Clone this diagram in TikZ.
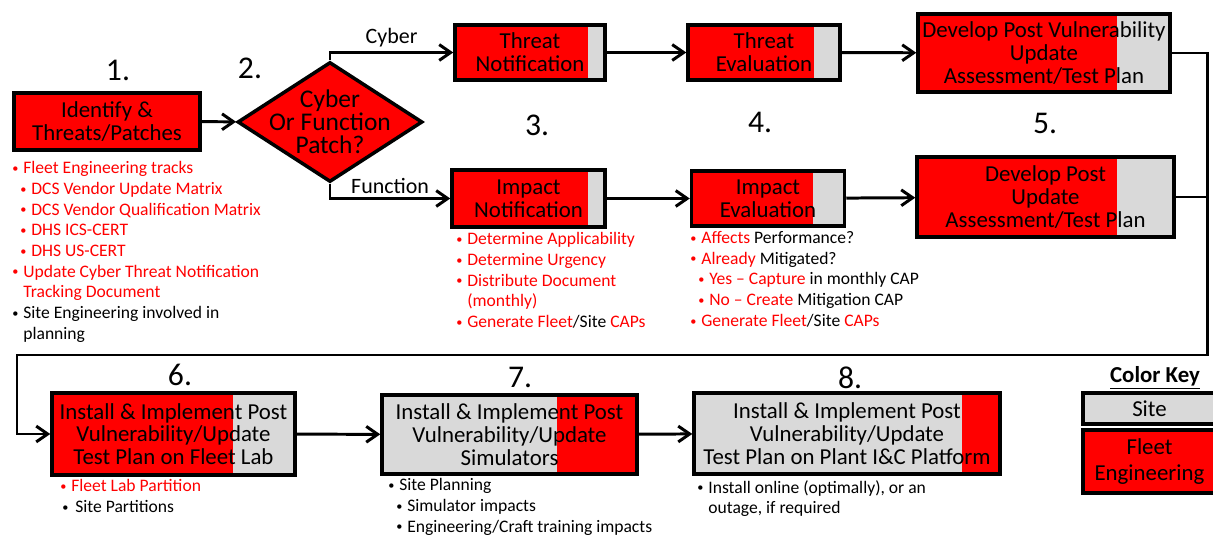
\documentclass[tikz,border=0pt]{standalone}
\usepackage{fontspec}
\usepackage{graphicx}
\setmainfont{Carlito}
\usetikzlibrary{arrows.meta,shapes.geometric}
\definecolor{fleetred}{HTML}{FF0000}
\definecolor{sitegrey}{HTML}{D9D9D9}
\newcommand{\rd}[1]{\textcolor{fleetred}{#1}}
\newcommand{\bl}{\makebox[0.22cm][l]{\raisebox{0.15ex}{\scalebox{0.7}{•}}}}
\tikzset{
  stepbox/.style={draw=black, line width=2pt, align=center, inner sep=0pt, font=\fontsize{13}{13}\selectfont},
  fleetbox/.style={stepbox, fill=fleetred},
  sitebox/.style={stepbox, fill=sitegrey},
  greyend/.style={stepbox, preaction={fill=fleetred, path picture={\fill[sitegrey] ([xshift=-#1]path picture bounding box.north east) rectangle (path picture bounding box.south east);}}},
  redend/.style={stepbox, preaction={fill=sitegrey, path picture={\fill[fleetred] ([xshift=-#1]path picture bounding box.north east) rectangle (path picture bounding box.south east);}}},
  stepnum/.style={font=\fontsize{18}{18}\selectfont},
  notes/.style={anchor=north west, align=left, inner sep=0pt, font=\fontsize{10}{11.8}\selectfont},
  lbl/.style={font=\fontsize{12.5}{12.5}\selectfont, inner sep=2pt},
  flow/.style={line width=1.7pt, -{Straight Barb[length=6.5pt,width=9pt]}},
  link/.style={line width=1.7pt}
}
\begin{document}
\begin{tikzpicture}[x=0.02cm, y=-0.02cm]
\useasboundingbox (0,0) rectangle (1213,536);

\node[fleetbox, minimum width=3.72cm, minimum height=1.14cm] (id) at (107,121.5) {Identify \&\\Threats/Patches};
\node[draw, line width=2pt, fill=fleetred, shape=diamond, minimum width=3.7cm, minimum height=2.4cm, inner sep=-0.5cm, align=center, font=\fontsize{14.5}{13.2}\selectfont] (dec) at (330,122) {Cyber\\Or Function\\Patch?};

\node[greyend=0.34cm, minimum width=3cm, minimum height=1.1cm] (tn) at (530,52.5) {Threat\\Notification};
\node[greyend=0.52cm, minimum width=3.04cm, minimum height=1.1cm] (te) at (764,52.5) {Threat\\Evaluation};
\node[greyend=1.06cm, minimum width=5.04cm, minimum height=1.56cm] (dv) at (1044,53) {Develop Post Vulnerability\\Update\\Assessment/Test Plan};
\node[greyend=0.34cm, minimum width=3.06cm, minimum height=1.14cm] (in) at (528.5,198.5) {Impact\\Notification};
\node[greyend=0.64cm, minimum width=3.06cm, minimum height=1.1cm] (ie) at (768,198.5) {Impact\\Evaluation};
\node[greyend=1.14cm, minimum width=5.14cm, minimum height=1.6cm] (du) at (1045.5,197) {Develop Post\\Update\\Assessment/Test Plan};

\node[greyend=1.24cm, minimum width=4.86cm, minimum height=1.64cm] (b6) at (173.5,434) {Install \& Implement Post\\Vulnerability/Update\\Test Plan on Fleet Lab};
\node[redend=1.6cm, minimum width=5.1cm, minimum height=1.58cm] (b7) at (509.5,434.5) {Install \& Implement Post\\Vulnerability/Update\\Simulators};
\node[redend=0.76cm, minimum width=6.12cm, minimum height=1.62cm] (b8) at (847,433.5) {Install \& Implement Post\\Vulnerability/Update\\Test Plan on Plant I\&C Platform};

\node[stepnum] (s1) at (118,70) {1.};
\node[stepnum] (s2) at (250,68) {2.};
\node[stepnum] (s3) at (537,125) {3.};
\node[stepnum] (s4) at (760,122) {4.};
\node[stepnum] (s5) at (1045,123) {5.};
\node[stepnum] (s6) at (180,375) {6.};
\node[stepnum] (s7) at (520,377) {7.};
\node[stepnum] (s8) at (850,378) {8.};

\node[notes] (l1) at (12,161) {\rd{\bl Fleet Engineering tracks}\\
\hspace*{0.16cm}\rd{\bl DCS Vendor Update Matrix}\\
\hspace*{0.16cm}\rd{\bl DCS Vendor Qualification Matrix}\\
\hspace*{0.16cm}\rd{\bl DHS ICS-CERT}\\
\hspace*{0.16cm}\rd{\bl DHS US-CERT}\\
\rd{\bl Update Cyber Threat Notification}\\
\hspace*{0.22cm}\rd{Tracking Document}\\
\bl Site Engineering involved in\\
\hspace*{0.22cm}planning};
\node[notes] (l3) at (456,232) {\rd{\bl Determine Applicability}\\
\rd{\bl Determine Urgency}\\
\rd{\bl Distribute Document}\\
\hspace*{0.22cm}\rd{(monthly)}\\
\rd{\bl Generate Fleet}/Site \rd{CAPs}};
\node[notes] (l4) at (690,231) {\rd{\bl Affects} Performance?\\
\rd{\bl Already} Mitigated?\\
\hspace*{0.16cm}\rd{\bl Yes -- Capture} in monthly CAP\\
\hspace*{0.16cm}\rd{\bl No -- Create} Mitigation CAP\\
\rd{\bl Generate Fleet}/Site \rd{CAPs}};
\node[notes] (l6) at (60,479) {\rd{\bl Fleet Lab Partition}\\
\makebox[0.3cm][l]{\hspace*{0.04cm}\raisebox{0.15ex}{\scalebox{0.7}{•}}}Site Partitions};
\node[notes] (l7) at (388,478) {\bl Site Planning\\
\hspace*{0.16cm}\bl Simulator impacts\\
\hspace*{0.16cm}\bl Engineering/Craft training impacts};
\node[notes] (l8) at (697,480) {\bl Install online (optimally), or an\\
\hspace*{0.22cm}outage, if required};

\node[font=\fontsize{13}{13}\selectfont\bfseries] (keyttl) at (1155,378) {\underline{Color Key}};
\node[sitebox, minimum width=2.66cm, minimum height=0.62cm] (ksite) at (1149.5,408.5) {Site};
\node[fleetbox, minimum width=2.66cm, minimum height=1.26cm, font=\fontsize{13}{15}\selectfont] (kfleet) at (1149.5,461.5) {Fleet\\Engineering};

\coordinate (rt) at (1207,355);
\coordinate (lf) at (17,355);

\draw[flow] (id) -- (dec);
\draw[flow] (dec.north) |- node[pos=0.75, above, lbl] {Cyber} (tn);
\draw[flow] (dec.south) |- node[pos=0.75, above, lbl] {Function} (in);
\draw[flow] (tn) -- (te);
\draw[flow] (te) -- (dv);
\draw[flow] (in) -- (ie);
\draw[flow] (ie) -- (du);
\draw[flow] (dv) -| (rt) -- (lf) |- (b6);
\draw[link] (du) -- (du -| rt);
\draw[flow] (b6) -- (b7);
\draw[flow] (b7) -- (b8);
\end{tikzpicture}
\end{document}
